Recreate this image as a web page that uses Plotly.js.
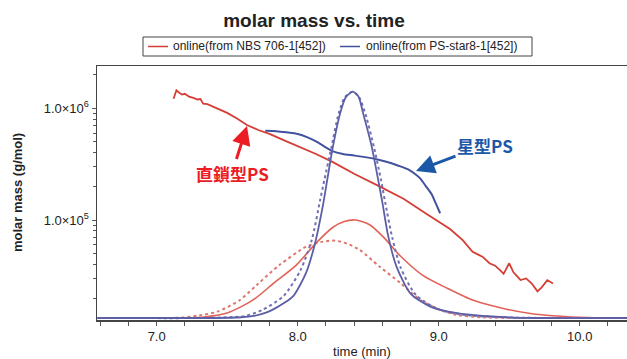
<!DOCTYPE html>
<html><head><meta charset="utf-8">
<script src="https://cdn.plot.ly/plotly-3.0.1.min.js"></script>
<style>html,body{margin:0;padding:0;background:#fff}#chart{width:627px;height:359px}</style>
</head><body><div id="chart"></div>
<script>
// ---- data ----
const chartTitle = "molar mass vs. time";
const legendLabels = ["online(from NBS 706-1[452])", "online(from PS-star8-1[452])"];
const xTitle = "time (min)";
const yTitle = "molar mass (g/mol)";
const yTickVals = [1e5, 1e6];
const yTickText = ["1.0×10<sup>5</sup>", "1.0×10<sup>6</sup>"];
const labelLinear = "直鎖型PS";
const labelStar = "星型PS";

// molar mass, linear PS (NBS 706-1)
const linearTime = [7.12,7.14,7.16,7.18,7.20,7.23,7.26,7.29,7.31,7.33,7.36,7.40,7.45,7.50,7.57,7.64,7.72,7.80,7.90,8.02,8.13,8.25,8.40,8.58,8.75,8.92,9.08,9.17,9.24,9.28,9.31,9.36,9.40,9.44,9.46,9.50,9.53,9.56,9.58,9.62,9.66,9.70,9.73,9.77,9.81];
const linearMolarMass = [1.22e6,1.45e6,1.38e6,1.33e6,1.35e6,1.27e6,1.24e6,1.20e6,1.21e6,1.10e6,1.09e6,1.04e6,9.7e5,9.1e5,8.1e5,7.1e5,6.4e5,5.9e5,5.2e5,4.5e5,3.9e5,3.3e5,2.6e5,2.0e5,1.55e5,1.12e5,8.3e4,6.6e4,5.2e4,4.9e4,4.7e4,4.1e4,3.9e4,3.5e4,3.3e4,4.1e4,3.4e4,3.1e4,2.9e4,3.0e4,2.7e4,2.3e4,2.5e4,2.9e4,2.7e4];

// molar mass, star PS (PS-star8-1)
const starTime = [7.77,7.85,7.92,8.00,8.07,8.13,8.19,8.25,8.32,8.40,8.50,8.58,8.66,8.72,8.78,8.83,8.87,8.91,8.95,8.98,9.01];
const starMolarMass = [6.3e5,6.25e5,6.1e5,5.9e5,5.5e5,5.05e5,4.55e5,4.12e5,3.9e5,3.78e5,3.62e5,3.45e5,3.24e5,3.05e5,2.85e5,2.6e5,2.35e5,2.0e5,1.7e5,1.4e5,1.15e5];

// detector signals (relative), star PS solid
const starSignalTime = [6.58,7.40,7.60,7.69,7.78,7.83,7.90,7.97,8.06,8.12,8.18,8.21,8.25,8.30,8.34,8.39,8.43,8.465,8.525,8.57,8.60,8.64,8.70,8.80,8.94,9.13,9.40,9.70,10.34];
const starSignal = [0,0,0.003,0.008,0.022,0.035,0.058,0.088,0.18,0.29,0.45,0.55,0.68,0.81,0.875,0.898,0.88,0.81,0.68,0.55,0.46,0.33,0.205,0.097,0.045,0.019,0.005,0,0];
// star PS dotted
const starSignal2Time = [6.58,7.35,7.55,7.63,7.75,7.90,8.02,8.10,8.16,8.19,8.24,8.29,8.335,8.39,8.435,8.48,8.54,8.59,8.62,8.67,8.73,8.84,9.01,9.22,9.50,9.80,10.34];
const starSignal2 = [0,0,0.004,0.008,0.032,0.087,0.19,0.31,0.47,0.55,0.68,0.81,0.877,0.898,0.877,0.81,0.68,0.55,0.46,0.32,0.20,0.09,0.032,0.01,0.002,0,0];
// linear PS solid
const linearSignalTime = [6.58,7.20,7.35,7.50,7.60,7.70,7.83,7.99,8.135,8.25,8.33,8.41,8.51,8.61,8.73,8.89,9.06,9.245,9.48,9.65,9.84,10.05,10.34];
const linearSignal = [0,0,0.005,0.02,0.045,0.078,0.138,0.21,0.30,0.36,0.383,0.389,0.37,0.32,0.245,0.168,0.118,0.07,0.035,0.018,0.008,0.002,0];
// linear PS dotted
const linearSignal2Time = [6.58,7.10,7.19,7.30,7.43,7.59,7.71,7.87,8.06,8.17,8.265,8.35,8.44,8.58,8.73,8.87,9.01,9.13,9.30,9.50,10.34];
const linearSignal2 = [0,0,0.002,0.01,0.025,0.071,0.131,0.21,0.283,0.302,0.307,0.295,0.27,0.204,0.138,0.071,0.032,0.012,0.003,0,0];

// ---- styling ----
const W = 627, H = 359, L = 97, R = 0, T = 66, B = 39;
const pw = W - L - R, ph = H - T - B;
const px = x => (x - L) / pw;
const py = y => (H - B - y) / ph;

const RED = "rgb(212,62,52)", RED_PK = "rgb(226,98,88)", RED_DOT = "rgb(222,118,108)";
const BLUE = "rgb(66,82,158)", BLUE_PK = "rgb(92,94,166)", BLUE_DOT = "rgb(112,112,178)";
const FONT = "Liberation Sans, Arial, Noto Sans CJK JP, sans-serif";
const CJK = "Noto Sans CJK JP, Liberation Sans, sans-serif";

const traces = [
  {x: linearSignal2Time, y: linearSignal2, yaxis: "y2", mode: "lines", line: {color: RED_DOT, width: 2, dash: "dot", shape: "spline", smoothing: 0.7}, showlegend: false, hoverinfo: "skip"},
  {x: linearSignalTime, y: linearSignal, yaxis: "y2", mode: "lines", line: {color: RED_PK, width: 1.6, shape: "spline", smoothing: 0.7}, showlegend: false, hoverinfo: "skip"},
  {x: starSignal2Time, y: starSignal2, yaxis: "y2", mode: "lines", line: {color: BLUE_DOT, width: 2, dash: "dot", shape: "spline", smoothing: 0.7}, showlegend: false, hoverinfo: "skip"},
  {x: starSignalTime, y: starSignal, yaxis: "y2", mode: "lines", line: {color: BLUE_PK, width: 1.8, shape: "spline", smoothing: 0.7}, showlegend: false, hoverinfo: "skip"},
  {x: linearTime, y: linearMolarMass, mode: "lines", name: legendLabels[0], line: {color: RED, width: 1.8}, showlegend: false},
  {x: starTime, y: starMolarMass, mode: "lines", name: legendLabels[1], line: {color: BLUE, width: 2, shape: "spline", smoothing: 0.6}, showlegend: false}
];

const legY = 46.5;
const shapes = [
  {type: "rect", xref: "paper", yref: "paper", x0: px(143), x1: px(532), y0: py(56), y1: py(37), line: {color: "#444", width: 1}, fillcolor: "rgba(0,0,0,0)"},
  {type: "line", xref: "paper", yref: "paper", x0: px(148), x1: px(168), y0: py(legY), y1: py(legY), line: {color: RED, width: 1.5}},
  {type: "line", xref: "paper", yref: "paper", x0: px(340), x1: px(360), y0: py(legY), y1: py(legY), line: {color: BLUE, width: 1.5}}
];

const annotations = [
  {xref: "paper", yref: "paper", x: px(171), y: py(legY), xanchor: "left", yanchor: "middle", text: legendLabels[0], showarrow: false, font: {family: FONT, size: 12, color: "#222"}},
  {xref: "paper", yref: "paper", x: px(364), y: py(legY), xanchor: "left", yanchor: "middle", text: legendLabels[1], showarrow: false, font: {family: FONT, size: 12, color: "#222"}},
  {xref: "paper", yref: "paper", x: px(17), y: py(193), xanchor: "center", yanchor: "middle", textangle: -90, text: "<b>" + yTitle + "</b>", showarrow: false, font: {family: FONT, size: 13, color: "#222"}},
  {xref: "paper", yref: "paper", x: px(247), y: py(126), ax: -15, ay: 47, text: "<b>" + labelLinear + "</b>", showarrow: true, arrowhead: 2, arrowsize: 1.25, arrowwidth: 3, arrowcolor: "rgb(236,28,36)", font: {family: CJK, size: 17, color: "rgb(236,28,36)"}},
  {xref: "paper", yref: "paper", x: px(416), y: py(171), ax: 69, ay: -26, text: "<b>" + labelStar + "</b>", showarrow: true, arrowhead: 2, arrowsize: 1.25, arrowwidth: 3, arrowcolor: "rgb(28,88,168)", font: {family: CJK, size: 17, color: "rgb(28,88,168)"}}
];

const layout = {
  width: W, height: H,
  margin: {l: L, r: R, t: T, b: B},
  paper_bgcolor: "#fff", plot_bgcolor: "#fff",
  font: {family: FONT, color: "#222"},
  title: {text: "<b>" + chartTitle + "</b>", font: {family: FONT, size: 19, color: "#222"}, xref: "container", x: 314 / W, xanchor: "center", yref: "container", y: 1 - 20 / H, yanchor: "middle"},
  xaxis: {
    range: [6.577, 10.335], tick0: 7, dtick: 1, tickformat: ".1f",
    ticks: "outside", ticklen: 4, tickcolor: "#555", tickwidth: 1,
    minor: {dtick: 0.2, tick0: 7, ticks: "outside", ticklen: 4, tickcolor: "#555", showgrid: false},
    showgrid: false, zeroline: false, showline: true, mirror: true, linecolor: "#444", linewidth: 1.5,
    tickfont: {family: FONT, size: 13, color: "#222"},
    title: {text: xTitle, font: {family: FONT, size: 13, color: "#222"}}
  },
  yaxis: {
    type: "log", range: [4.105, 6.379],
    tickmode: "array", tickvals: yTickVals, ticktext: yTickText,
    ticks: "outside", ticklen: 4, tickcolor: "#555",
    minor: {tickmode: "array", tickvals: [2e4,3e4,4e4,5e4,6e4,7e4,8e4,9e4,2e5,3e5,4e5,5e5,6e5,7e5,8e5,9e5,2e6], ticks: "outside", ticklen: 3, tickcolor: "#555", showgrid: false},
    showgrid: false, zeroline: false, showline: true, linecolor: "#444", linewidth: 1.5,
    tickfont: {family: FONT, size: 13, color: "#222"}
  },
  yaxis2: {overlaying: "y", range: [-0.008, 1.0], visible: false, fixedrange: true},
  showlegend: false,
  shapes: shapes,
  annotations: annotations
};

Plotly.newPlot("chart", traces, layout, {displayModeBar: false, staticPlot: true});
</script></body></html>
